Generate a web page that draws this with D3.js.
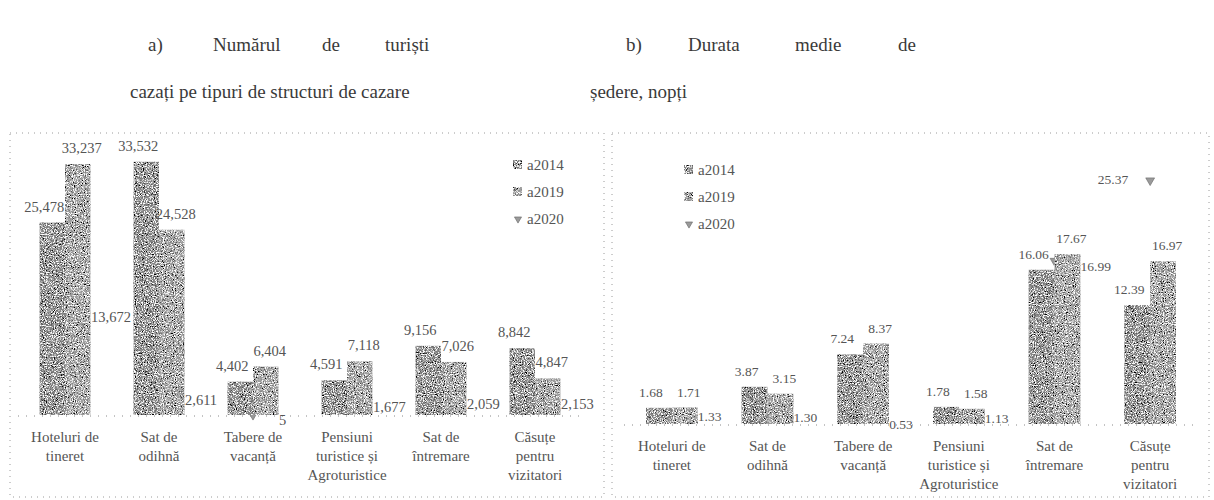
<!DOCTYPE html>
<html>
<head>
<meta charset="utf-8">
<script src="https://cdn.jsdelivr.net/npm/d3@7"></script>
<style>
  body { margin: 0; background: #fff; }
  svg { display: block; }
  svg text { font-family: "Liberation Serif", "Times New Roman", "DejaVu Serif", serif; }
</style>
</head>
<body>
<svg id="chart" width="1214" height="500"></svg>
<script>
// categories and tick labels (same for both panels)
const categories = ["Hoteluri de tineret", "Sat de odihnă", "Tabere de vacanță",
  "Pensiuni turistice și Agroturistice", "Sat de întremare", "Căsuțe pentru vizitatori"];
const categoryLines = [["Hoteluri de", "tineret"], ["Sat de", "odihnă"], ["Tabere de", "vacanță"],
  ["Pensiuni", "turistice și", "Agroturistice"], ["Sat de", "întremare"], ["Căsuțe", "pentru", "vizitatori"]];
const seriesNames = ["a2014", "a2019", "a2020"];

// a) numarul de turisti
const tourists2014 = [25478, 33532, 4402, 4591, 9156, 8842];
const tourists2019 = [33237, 24528, 6404, 7118, 7026, 4847];
const tourists2020 = [13672, 2611, 5, 1677, 2059, 2153];

// b) durata medie de sedere, nopti
const stay2014 = [1.68, 3.87, 7.24, 1.78, 16.06, 12.39];
const stay2019 = [1.71, 3.15, 8.37, 1.58, 17.67, 16.97];
const stay2020 = [1.33, 1.30, 0.53, 1.13, 16.99, 25.37];

const svg = d3.select('#chart');
const defs = svg.append('defs');

// speckled "scanned" texture for the bars
const grain = defs.append('filter').attr('id', 'grain')
  .attr('x', 0).attr('y', 0).attr('width', '100%').attr('height', '100%');
grain.append('feTurbulence').attr('type', 'fractalNoise').attr('baseFrequency', 0.9)
  .attr('numOctaves', 2).attr('seed', 4).attr('result', 'noise');
grain.append('feColorMatrix').attr('in', 'noise').attr('type', 'matrix')
  .attr('values', '0 0 0 0 0  0 0 0 0 0  0 0 0 0 0  5 0 0 0 -2.5').attr('result', 'dark');
grain.append('feColorMatrix').attr('in', 'noise').attr('type', 'matrix')
  .attr('values', '0 0 0 0 1  0 0 0 0 1  0 0 0 0 1  0 5 0 0 -2.4').attr('result', 'light');
grain.append('feComposite').attr('in', 'dark').attr('in2', 'SourceGraphic').attr('operator', 'in').attr('result', 'dark2');
grain.append('feComposite').attr('in', 'light').attr('in2', 'SourceGraphic').attr('operator', 'in').attr('result', 'light2');
const merge = grain.append('feMerge');
merge.append('feMergeNode').attr('in', 'SourceGraphic');
merge.append('feMergeNode').attr('in', 'dark2');
merge.append('feMergeNode').attr('in', 'light2');

const barFill = ['#868686', '#9e9e9e'];
const textColor = '#555';

// titles (justified first line, as in the document)
function title(words, y) {
  words.forEach(w => {
    svg.append('text').attr('x', w[1]).attr('y', y)
      .attr('font-size', 19).attr('fill', '#3a3a3a').text(w[0]);
  });
}
title([['a)', 148], ['Numărul', 213], ['de', 322], ['turiști', 385]], 51);
title([['cazați pe tipuri de structuri de cazare', 130]], 98);
title([['b)', 626], ['Durata', 688], ['medie', 795], ['de', 898]], 51);
title([['ședere, nopți', 590]], 98);

function drawPanel(cfg) {
  const { frame, xRange, base, yTop, max, s14, s19, s20, fmt, fs, legendPos, catY } = cfg;
  const g = svg.append('g');

  g.append('rect').attr('x', frame[0]).attr('y', frame[1])
    .attr('width', frame[2] - frame[0]).attr('height', frame[3] - frame[1])
    .attr('fill', 'none').attr('stroke', '#9a9a9a').attr('stroke-width', 1)
    .attr('stroke-dasharray', '1,5');

  const x = d3.scaleBand().domain(categories).range(xRange).paddingInner(0.46).paddingOuter(0.23);
  const xs = d3.scaleBand().domain([0, 1]).range([0, x.bandwidth()]);
  const y = d3.scaleLinear().domain([0, max]).range([base, yTop]);
  const cx = i => x(categories[i]) + x.bandwidth() / 2;

  // baseline
  g.append('line').attr('x1', xRange[0]).attr('x2', xRange[1]).attr('y1', base + 1).attr('y2', base + 1)
    .attr('stroke', '#888').attr('stroke-dasharray', '1,7');

  // 2020 markers sit behind the bars, as in the scan
  const tri = d3.symbol().type(d3.symbolTriangle).size(34);
  g.selectAll(null).data(s20).join('path')
    .attr('d', tri)
    .attr('transform', (d, i) => `translate(${cx(i)},${y(d)}) rotate(180)`)
    .attr('fill', '#9a9a9a').attr('stroke', '#666').attr('stroke-width', 0.6);

  const bars = [s14, s19];
  bars.forEach((vals, si) => {
    g.selectAll(null).data(vals).join('rect')
      .attr('x', (d, i) => x(categories[i]) + xs(si))
      .attr('y', d => y(d))
      .attr('width', xs.bandwidth())
      .attr('height', d => base - y(d))
      .attr('fill', barFill[si])
      .attr('filter', 'url(#grain)');
  });

  // value labels for bars
  bars.forEach((vals, si) => {
    g.selectAll(null).data(vals).join('text')
      .attr('x', (d, i) => x(categories[i]) + xs(si) + xs.bandwidth() / 2 + (si === 0 ? -8 : 4))
      .attr('y', d => y(d) - 11)
      .attr('text-anchor', 'middle').attr('font-size', fs).attr('fill', textColor)
      .text(d => fmt(d));
  });

  // 2020 labels
  const above = i => s20[i] > Math.max(s14[i], s19[i]);
  g.selectAll(null).data(s20).join('text')
    .attr('x', (d, i) => above(i) ? cx(i) - 22 : cx(i) + 26)
    .attr('y', (d, i) => above(i) ? y(d) + 4 : y(d) + 10)
    .attr('text-anchor', (d, i) => above(i) ? 'end' : 'start')
    .attr('font-size', fs).attr('fill', textColor)
    .text(d => fmt(d));

  // category labels
  categoryLines.forEach((lines, i) => {
    lines.forEach((ln, k) => {
      g.append('text').attr('x', cx(i)).attr('y', catY + k * 19)
        .attr('text-anchor', 'middle').attr('font-size', 15).attr('fill', textColor).text(ln);
    });
  });

  // legend
  seriesNames.forEach((name, si) => {
    const ly = legendPos[1] + si * 27;
    if (si < 2) {
      g.append('rect').attr('x', legendPos[0]).attr('y', ly - 5).attr('width', 9).attr('height', 9)
        .attr('fill', barFill[si]).attr('filter', 'url(#grain)');
    } else {
      g.append('path').attr('d', d3.symbol().type(d3.symbolTriangle).size(22))
        .attr('transform', `translate(${legendPos[0] + 5},${ly}) rotate(180)`)
        .attr('fill', '#9a9a9a').attr('stroke', '#666').attr('stroke-width', 0.6);
    }
    g.append('text').attr('x', legendPos[0] + 14).attr('y', ly + 5)
      .attr('font-size', 15).attr('fill', textColor).text(name);
  });
}

drawPanel({
  frame: [10, 133, 604, 497], xRange: [18, 582], base: 415, yTop: 113, max: 40000,
  s14: tourists2014, s19: tourists2019, s20: tourists2020,
  fmt: d3.format(','), fs: 14.5, legendPos: [513, 165], catY: 442
});
drawPanel({
  frame: [612, 133, 1209, 497], xRange: [624, 1198], base: 424, yTop: 136, max: 30,
  s14: stay2014, s19: stay2019, s20: stay2020,
  fmt: d3.format('.2f'), fs: 13.5, legendPos: [684, 170], catY: 451
});
</script>
</body>
</html>
